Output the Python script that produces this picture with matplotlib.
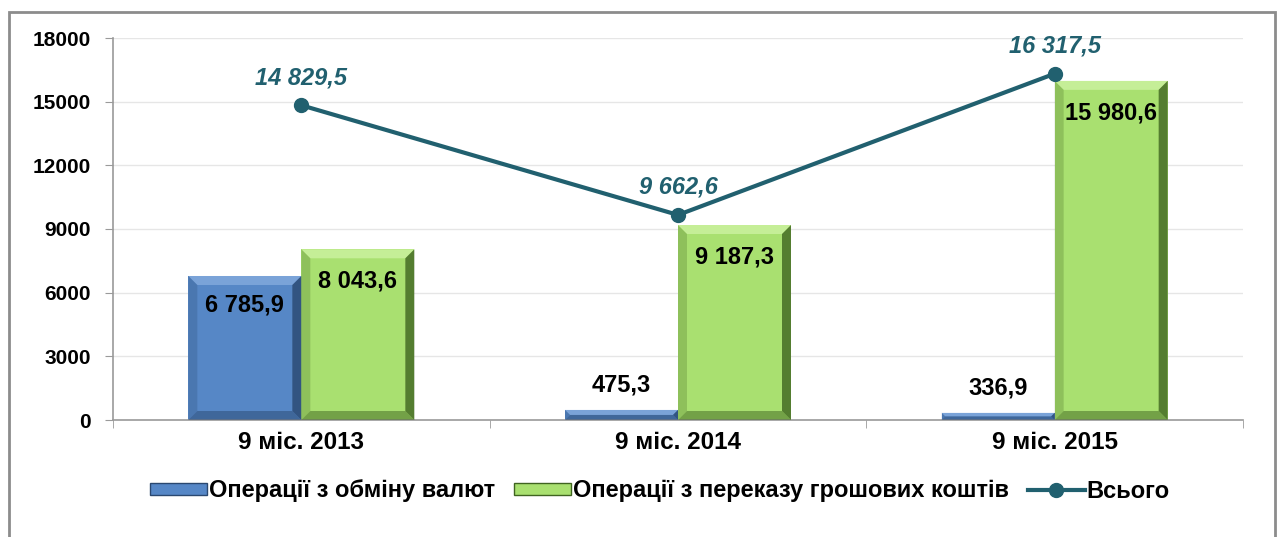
import matplotlib
matplotlib.use("Agg")
import matplotlib.pyplot as plt
from matplotlib.patches import Polygon, Rectangle
from matplotlib.lines import Line2D
from matplotlib.patches import Patch
import numpy as np

categories = ["9 міс. 2013", "9 міс. 2014", "9 міс. 2015"]
exchange = [6785.9, 475.3, 336.9]
transfer = [8043.6, 9187.3, 15980.6]
total = [14829.5, 9662.6, 16317.5]
exchange_lbl = ["6 785,9", "475,3", "336,9"]
transfer_lbl = ["8 043,6", "9 187,3", "15 980,6"]
total_lbl = ["14 829,5", "9 662,6", "16 317,5"]
series_names = ["Операції з обміну валют", "Операції з переказу грошових коштів", "Всього"]
yticks = [0, 3000, 6000, 9000, 12000, 15000, 18000]

BLUE = "#5687C6"
BLUE_L = "#8AB0E0"
BLUE_D = "#2A4870"
GREEN = "#A9E070"
GREEN_L = "#D2F5A8"
GREEN_D = "#3F6420"
LINE = "#21606F"

plt.rcParams['font.family'] = ['Liberation Sans', 'DejaVu Sans']

fig = plt.figure(figsize=(12.82, 5.37), dpi=100)
ax = fig.add_axes([113/1282, 117/537, 1130/1282, 382/537])

# outer border
fig.add_artist(Rectangle((9/1282, -0.05), 1266/1282, 1.05 - 12/537, transform=fig.transFigure,
                         fill=False, edgecolor="#8C8C8C", linewidth=2))

x = np.arange(len(categories))
w = 0.3
ax.set_xlim(-0.5, 2.5)
ax.set_ylim(0, 18000)

b1 = ax.bar(x - w/2, exchange, w, color=BLUE, zorder=2, linewidth=0)
b2 = ax.bar(x + w/2, transfer, w, color=GREEN, zorder=2, linewidth=0)

# bevel effect
px_x = 1130 / 3.0      # px per x unit
px_y = 382 / 18000.0   # px per y unit
bev_px = 9
def bevel(bars, light, dark):
    for r in bars:
        x0, y0 = r.get_x(), r.get_y()
        x1, y1 = x0 + r.get_width(), y0 + r.get_height()
        hpx = r.get_height() * px_y
        b = min(bev_px, hpx / 2)
        dx = b / px_x
        dy = b / px_y
        # top
        ax.add_patch(Polygon([(x0, y1), (x1, y1), (x1 - dx, y1 - dy), (x0 + dx, y1 - dy)],
                             closed=True, color=light, alpha=0.7, lw=0, zorder=3))
        # left
        ax.add_patch(Polygon([(x0, y0), (x0, y1), (x0 + dx, y1 - dy), (x0 + dx, y0 + dy)],
                             closed=True, color=dark, alpha=0.25, lw=0, zorder=3))
        # right
        ax.add_patch(Polygon([(x1, y0), (x1, y1), (x1 - dx, y1 - dy), (x1 - dx, y0 + dy)],
                             closed=True, color=dark, alpha=0.8, lw=0, zorder=3))
        # bottom
        ax.add_patch(Polygon([(x0, y0), (x1, y0), (x1 - dx, y0 + dy), (x0 + dx, y0 + dy)],
                             closed=True, color=dark, alpha=0.5, lw=0, zorder=3))
bevel(b1, BLUE_L, BLUE_D)
bevel(b2, GREEN_L, GREEN_D)

ax.plot(x, total, color=LINE, lw=3, marker="o", ms=10, zorder=5)

# labels
for i in range(3):
    if exchange[i] > 2000:
        ax.annotate(exchange_lbl[i], (x[i] - w/2, exchange[i]), xytext=(0, -21), textcoords="offset points",
                    ha="center", va="center", fontsize=17, fontweight="bold", color="black", zorder=6)
    else:
        ax.annotate(exchange_lbl[i], (x[i] - w/2, exchange[i]), xytext=(0, 18), textcoords="offset points",
                    ha="center", va="center", fontsize=17, fontweight="bold", color="black", zorder=6)
    ax.annotate(transfer_lbl[i], (x[i] + w/2, transfer[i]), xytext=(0, -23), textcoords="offset points",
                ha="center", va="center", fontsize=17, fontweight="bold", color="black", zorder=6)
    ax.annotate(total_lbl[i], (x[i], total[i]), xytext=(0, 20), textcoords="offset points",
                ha="center", va="center", fontsize=17, fontweight="bold", fontstyle="italic",
                color=LINE, zorder=6)

ax.set_yticks(yticks)
ax.set_yticklabels([str(v) for v in yticks], fontsize=15, fontweight="bold")
ax.set_xticks(x)
ax.set_xticklabels(categories, fontsize=17.5, fontweight="bold")
ax.tick_params(axis="x", length=0, pad=8)
ax.tick_params(axis="y", length=6, color="#9A9A9A", pad=10)
ax.set_xticks([-0.5, 0.5, 1.5, 2.5], minor=True)
ax.tick_params(axis="x", which="minor", length=6, color="#9A9A9A", direction="out")
ax.grid(axis="y", color="#E6E6E6", lw=1, zorder=0)
ax.set_axisbelow(True)
for s in ["top", "right"]:
    ax.spines[s].set_visible(False)
ax.spines["left"].set_color("#9A9A9A")
ax.spines["bottom"].set_color("#9A9A9A")
ax.spines["left"].set_linewidth(1.2)
ax.spines["bottom"].set_linewidth(1.2)

handles = [Patch(facecolor=BLUE, edgecolor=BLUE_D), Patch(facecolor=GREEN, edgecolor=GREEN_D),
           Line2D([0], [0], color=LINE, lw=3, marker="o", ms=10)]
fig.legend(handles, series_names, loc="center", bbox_to_anchor=(660/1282, 1 - 491/537), ncol=3,
           frameon=False, handlelength=2.4, handleheight=0.35, handletextpad=0.1, columnspacing=0.8,
           prop={"weight": "bold", "size": 17})

fig.savefig("out.png", dpi=100)
